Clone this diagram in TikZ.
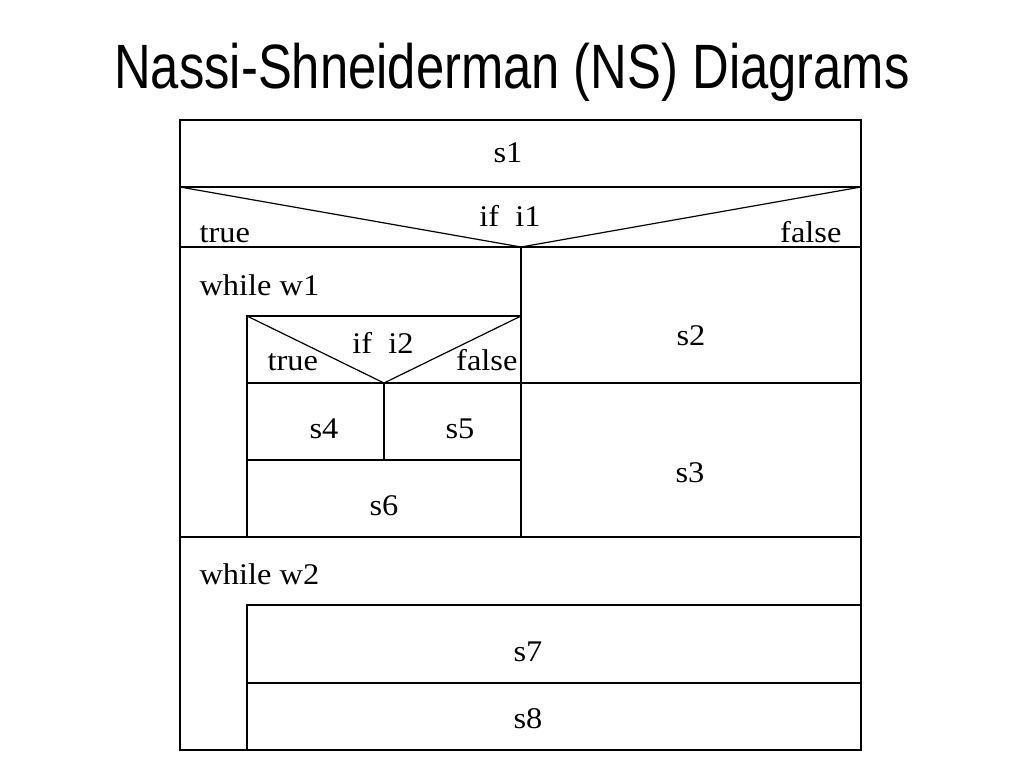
\documentclass[tikz,border=0pt]{standalone}
\usepackage{fontspec}
\setmainfont{Liberation Serif}
\newfontfamily\titlefont[FakeStretch=0.81]{Liberation Sans}
\newfontfamily\nsfont[FakeStretch=1.08]{Liberation Serif}

\begin{document}
\begin{tikzpicture}[x=0.75pt, y=-0.75pt, line width=0.9pt,
    lbl/.style={inner sep=0pt, font=\nsfont\fontsize{22.5}{27}\selectfont}]
    \useasboundingbox (0,0) rectangle (1024,768);
    \node[anchor=base, inner sep=0pt, font=\titlefont\fontsize{47}{56}\selectfont] (title) at (512,88) {Nassi-Shneiderman (NS) Diagrams};

    % outer frame and if i1
    \draw (180,120) rectangle (861,750);
    \draw (180,187) -- (861,187);
    \draw (180,187) -- (521,247) -- (861,187);
    \draw (180,247) -- (861,247);
    \draw (521,247) -- (521,537);
    \draw (247,383) -- (861,383);
    \draw (180,537) -- (861,537);

    % while w1 body
    \draw (247,537) -- (247,316) -- (521,316);
    \draw (247,316) -- (384,383) -- (521,316);
    \draw (384,383) -- (384,460);
    \draw (247,460) -- (521,460);

    % while w2 body
    \draw (247,750) -- (247,605) -- (861,605);
    \draw (247,683) -- (861,683);

    \node[lbl, anchor=base] (s1) at (508,162) {s1};
    \node[lbl, anchor=base] (ifa) at (510,226) {if\ \ i1};
    \node[lbl, anchor=base west] (truea) at (199,242) {true};
    \node[lbl, anchor=base east] (falsea) at (842,242) {false};
    \node[lbl, anchor=base west] (whilea) at (199,295) {while w1};
    \node[lbl, anchor=base] (ifb) at (383,353) {if\ \ i2};
    \node[lbl, anchor=base west] (trueb) at (267,370) {true};
    \node[lbl, anchor=base east] (falseb) at (518,370) {false};
    \node[lbl, anchor=base] (s2) at (691,345) {s2};
    \node[lbl, anchor=base] (s4) at (324,438) {s4};
    \node[lbl, anchor=base] (s5) at (460,438) {s5};
    \node[lbl, anchor=base] (s6) at (384,515) {s6};
    \node[lbl, anchor=base] (s3) at (690,482) {s3};
    \node[lbl, anchor=base west] (whileb) at (199,584) {while w2};
    \node[lbl, anchor=base] (s7) at (528,661) {s7};
    \node[lbl, anchor=base] (s8) at (528,728) {s8};
\end{tikzpicture}
\end{document}
